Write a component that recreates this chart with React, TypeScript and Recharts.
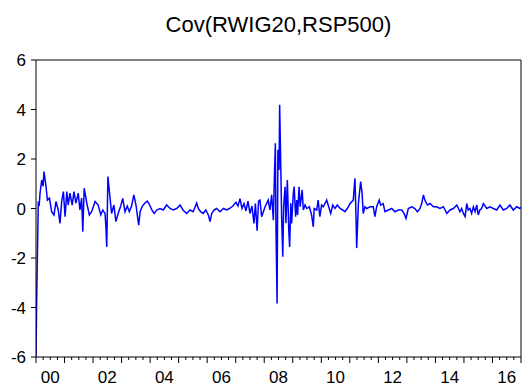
import React from "react";
import { LineChart, Line, XAxis, YAxis, ReferenceLine } from "recharts";

// decimal year of each observation
const dates: number[] = [
  2000.0, 2000.02, 2000.04, 2000.07, 2000.08, 2000.11, 2000.14, 2000.2, 2000.25, 2000.28,
  2000.34, 2000.4, 2000.47, 2000.55, 2000.63, 2000.7, 2000.78, 2000.84, 2000.9, 2000.96,
  2001.02, 2001.08, 2001.13, 2001.19, 2001.27, 2001.33, 2001.4, 2001.48, 2001.54, 2001.6,
  2001.64, 2001.69, 2001.78, 2001.87, 2001.95, 2002.07, 2002.18, 2002.27, 2002.34, 2002.42,
  2002.45, 2002.48, 2002.52, 2002.59, 2002.65, 2002.73, 2002.8, 2002.88, 2002.97, 2003.04,
  2003.12, 2003.2, 2003.27, 2003.35, 2003.43, 2003.51, 2003.55, 2003.6, 2003.65, 2003.73,
  2003.82, 2003.9, 2003.97, 2004.06, 2004.14, 2004.23, 2004.35, 2004.46, 2004.58, 2004.7,
  2004.81, 2004.93, 2005.05, 2005.16, 2005.28, 2005.4, 2005.51, 2005.63, 2005.69, 2005.77,
  2005.86, 2005.95, 2006.04, 2006.1, 2006.16, 2006.24, 2006.33, 2006.45, 2006.57, 2006.68,
  2006.78, 2006.9, 2007.01, 2007.08, 2007.15, 2007.22, 2007.29, 2007.36, 2007.43, 2007.5,
  2007.57, 2007.64, 2007.69, 2007.75, 2007.8, 2007.85, 2007.91, 2008.03, 2008.14, 2008.2,
  2008.26, 2008.32, 2008.35, 2008.39, 2008.41, 2008.45, 2008.48, 2008.52, 2008.54, 2008.58,
  2008.61, 2008.65, 2008.68, 2008.73, 2008.76, 2008.81, 2008.86, 2008.89, 2008.93, 2008.96,
  2009.02, 2009.05, 2009.1, 2009.14, 2009.17, 2009.22, 2009.26, 2009.33, 2009.37, 2009.43,
  2009.49, 2009.58, 2009.66, 2009.72, 2009.75, 2009.84, 2009.89, 2009.95, 2010.01, 2010.07,
  2010.19, 2010.24, 2010.33, 2010.4, 2010.48, 2010.56, 2010.66, 2010.75, 2010.83, 2010.91,
  2011.01, 2011.12, 2011.18, 2011.22, 2011.24, 2011.3, 2011.38, 2011.43, 2011.47, 2011.53,
  2011.59, 2011.71, 2011.82, 2011.88, 2011.94, 2012.03, 2012.08, 2012.17, 2012.23, 2012.35,
  2012.47, 2012.58, 2012.7, 2012.82, 2012.9, 2012.97, 2013.05, 2013.17, 2013.28, 2013.37,
  2013.46, 2013.52, 2013.58, 2013.63, 2013.72, 2013.81, 2013.93, 2014.04, 2014.16, 2014.28,
  2014.34, 2014.4, 2014.51, 2014.63, 2014.75, 2014.86, 2014.92, 2014.98, 2015.04, 2015.1,
  2015.15, 2015.21, 2015.27, 2015.33, 2015.39, 2015.45, 2015.5, 2015.56, 2015.62, 2015.68,
  2015.8, 2015.91, 2016.03, 2016.15, 2016.26, 2016.38, 2016.5, 2016.61, 2016.73, 2016.85,
  2016.96, 2017.0,
];

// Cov(RWIG20,RSP500)
const covValues: number[] = [
  -6.0, -4.0, -2.5, -0.5, 0.28, 0.1, 0.6, 1.15, 0.9, 1.49,
  1.0, 0.34, 0.42, -0.13, -0.26, 0.28, -0.06, -0.6, 0.28, 0.68,
  -0.33, 0.68, 0.14, 0.62, 0.14, 0.68, 0.22, 0.62, -0.06, 0.42,
  -0.94, 0.82, 0.22, -0.26, -0.13, 0.28, 0.14, -0.26, -0.06, -0.2,
  -0.74, -1.55, 1.29, 0.48, -0.2, 0.14, -0.53, -0.2, 0.1, 0.41,
  -0.13, 0.1, -0.13, 0.1, 0.55, 0.1, -0.26, -0.67, -0.13, 0.1,
  0.22, 0.3, 0.18, -0.06, -0.2, -0.06, 0.0, -0.06, 0.14, 0.0,
  -0.06, 0.0, 0.14, -0.07, -0.2, -0.06, -0.13, 0.22, 0.0, -0.13,
  -0.2, -0.06, -0.26, -0.53, -0.2, -0.06, 0.0, -0.13, 0.0, -0.06,
  0.0, 0.1, 0.25, 0.1, 0.4, 0.0, 0.2, -0.1, 0.3, -0.2,
  0.1, -0.6, 0.2, -0.9, 0.3, 0.34, -0.33, 0.07, 0.34, -0.06,
  0.55, -0.47, 1.02, 2.64, -0.6, -3.84, 2.37, 1.56, 4.19, 1.69,
  -0.33, -1.95, 0.07, 0.88, -0.6, 1.15, -0.87, -1.55, 0.21, -0.6,
  0.62, 0.88, -0.33, 0.34, -0.26, 0.88, 0.07, 0.75, -0.06, 0.14,
  0.0, 0.07, -0.26, -0.74, 0.0, -0.06, 0.34, -0.33, 0.14, 0.07,
  0.34, 0.14, -0.2, 0.14, 0.0, 0.14, 0.0, -0.06, -0.13, 0.0,
  0.2, 0.34, 1.22, -0.47, -1.6, 0.2, 1.09, 0.62, -0.2, 0.07,
  0.0, 0.07, 0.07, -0.33, 0.07, 0.34, 0.14, 0.2, -0.13, -0.06,
  0.0, -0.13, -0.06, -0.06, -0.2, -0.4, 0.0, 0.07, 0.0, -0.13,
  0.0, 0.2, 0.55, 0.34, 0.14, 0.2, 0.07, 0.07, 0.0, 0.07,
  -0.06, -0.2, -0.06, 0.0, 0.14, -0.13, 0.0, -0.2, -0.33, 0.2,
  -0.06, 0.0, -0.2, 0.07, -0.13, 0.14, -0.26, -0.06, 0.0, 0.2,
  0.0, 0.07, 0.0, -0.06, 0.14, -0.06, 0.0, 0.14, -0.06, 0.07,
  0.0, 0.05,
];

const yTicks: number[] = [-6, -4, -2, 0, 2, 4, 6];
const firstYear = 2000;
const lastYear = 2017;
const titleText = "Cov(RWIG20,RSP500)";

const data = dates.map((d, i) => ({ t: d, v: covValues[i] }));

const xTicks: number[] = [];
for (let q = 0; q <= (lastYear - firstYear) * 4; q++) xTicks.push(firstYear + q / 4);

const FONT = "'Liberation Sans', Arial, sans-serif";

const XTick = (props: any) => {
  const { x, y, payload } = props;
  const v: number = payload.value;
  const yr = Math.floor(v);
  const frac = v - yr;
  const major = frac === 0;
  const showLabel = frac === 0.5 && yr % 2 === 0 && yr < lastYear;
  return (
    <g>
      <line x1={x} x2={x} y1={y} y2={y + (major ? 6 : 3)} stroke="#000" strokeWidth={1} />
      {showLabel && (
        <text x={x} y={y + 26} textAnchor="middle" fontSize={17} fontFamily={FONT} fill="#000">
          {String(yr % 100).padStart(2, "0")}
        </text>
      )}
    </g>
  );
};

export default function App() {
  return (
    <div style={{ position: "absolute", left: 0, top: 0, width: 522, height: 387, background: "#fff" }}>
      <div
        style={{
          position: "absolute",
          left: 36,
          width: 485,
          top: 12,
          textAlign: "center",
          fontFamily: FONT,
          fontSize: 22,
          lineHeight: "25px",
          color: "#000",
        }}
      >
        {titleText}
      </div>
      <LineChart width={522} height={387} data={data} margin={{ top: 60, right: 1, bottom: 0, left: 0 }}>
        <XAxis
          dataKey="t"
          type="number"
          domain={[firstYear, lastYear]}
          ticks={xTicks}
          interval={0}
          height={30}
          tick={<XTick />}
          tickLine={false}
          tickSize={0}
          tickMargin={0}
          axisLine={{ stroke: "#000", strokeWidth: 1 }}
          allowDataOverflow
        />
        <YAxis
          type="number"
          domain={[-6, 6]}
          ticks={yTicks}
          interval={0}
          width={36}
          tickSize={5}
          tickMargin={5}
          tickLine={{ stroke: "#000" }}
          axisLine={{ stroke: "#000", strokeWidth: 1 }}
          tick={{ fill: "#000", fontSize: 17, fontFamily: FONT }}
          allowDataOverflow
        />
        <ReferenceLine y={6} stroke="#000" strokeWidth={1} />
        <ReferenceLine x={lastYear} stroke="#000" strokeWidth={1} />
        <Line
          type="linear"
          dataKey="v"
          stroke="#0000ff"
          strokeWidth={1.5}
          dot={false}
          isAnimationActive={false}
        />
      </LineChart>
    </div>
  );
}
